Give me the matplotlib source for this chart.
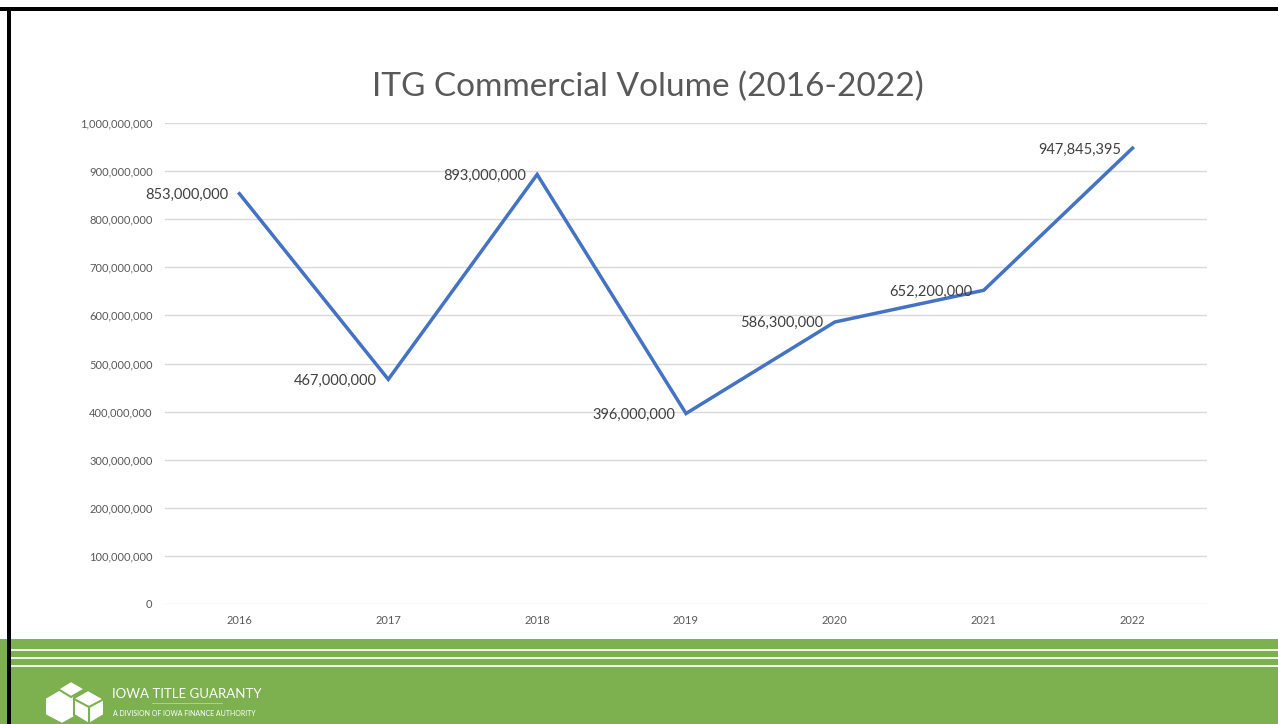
import matplotlib.pyplot as plt
from matplotlib.patches import Rectangle, Polygon
from matplotlib.ticker import FuncFormatter

years = ['2016', '2017', '2018', '2019', '2020', '2021', '2022']
volume = [853000000, 467000000, 893000000, 396000000, 586300000, 652200000, 947845395]
value_labels = ['853,000,000', '467,000,000', '893,000,000', '396,000,000',
                '586,300,000', '652,200,000', '947,845,395']

plt.rcParams['font.family'] = ['Lato', 'DejaVu Sans']

W, H = 1278, 724
fig = plt.figure(figsize=(W / 100, H / 100), dpi=100)
fig.patch.set_facecolor('white')

# decoration layer in pixel coordinates
bg = fig.add_axes([0, 0, 1, 1], zorder=0)
bg.set_xlim(0, W)
bg.set_ylim(H, 0)
bg.axis('off')
green = '#7DB04F'
bg.add_patch(Rectangle((0, 639), W, H - 639, color=green, lw=0))
for yy in (650, 658, 666):
    bg.add_patch(Rectangle((9, yy - 1), W, 2.2, color='#F2F5EC', lw=0))
bg.add_patch(Rectangle((0, 7), W, 3.5, color='black', lw=0))
bg.add_patch(Rectangle((7, 7), 3.5, H, color='black', lw=0))

# rough logo: stacked cubes
cubes = [
    [(45, 698), (62, 688), (78, 698), (78, 715), (62, 724), (45, 715)],
    [(58, 689), (71, 681), (85, 689), (71, 697)],
    [(74, 698), (88, 690), (104, 699), (104, 715), (89, 724), (74, 715)],
]
for c in cubes:
    bg.add_patch(Polygon(c, closed=True, fc='white', ec=green, lw=1.5))
bg.plot([74, 89, 104], [699, 707, 699], color=green, lw=1.5)
bg.plot([89, 89], [707, 724], color=green, lw=1.5)
bg.text(112, 694, 'IOWA TITLE GUARANTY', color='white', fontsize=9.5,
        va='center', ha='left')
bg.plot([152, 222], [703, 703], color='#B8D79A', lw=0.6)
bg.text(113, 713, 'A DIVISION OF IOWA FINANCE AUTHORITY', color='white',
        fontsize=5, va='center', ha='left', stretch='condensed')

ax = fig.add_axes([165 / W, 1 - 604 / H, 1042 / W, 481 / H], zorder=1)
ax.patch.set_alpha(0)
x = list(range(len(years)))
ax.plot(x, volume, color='#4472C4', lw=2.5, solid_joinstyle='miter', zorder=3)
for xi, v, lab in zip(x, volume, value_labels):
    ax.annotate(lab, (xi, v), xytext=(-8, -1), textcoords='offset points',
                ha='right', va='center', fontsize=10.5, color='#404040', zorder=4)

ax.set_xlim(-0.5, len(years) - 0.5)
ax.set_ylim(0, 1000000000)
ax.set_yticks(range(0, 1000000001, 100000000))
ax.yaxis.set_major_formatter(FuncFormatter(lambda v, p: f'{int(v):,}'))
ax.set_xticks(x)
ax.set_xticklabels(years)
ax.grid(axis='y', color='#D9D9D9', lw=1)
ax.set_axisbelow(True)
for s in ax.spines.values():
    s.set_visible(False)
ax.tick_params(axis='both', length=0, labelsize=8, colors='#595959')
ax.tick_params(axis='y', pad=9)
ax.tick_params(axis='x', pad=8)

fig.text(648 / W, 1 - 87 / H, 'ITG Commercial Volume (2016-2022)', ha='center',
         va='center', fontsize=24, color='#595959')

fig.savefig('out.png', dpi=100)
